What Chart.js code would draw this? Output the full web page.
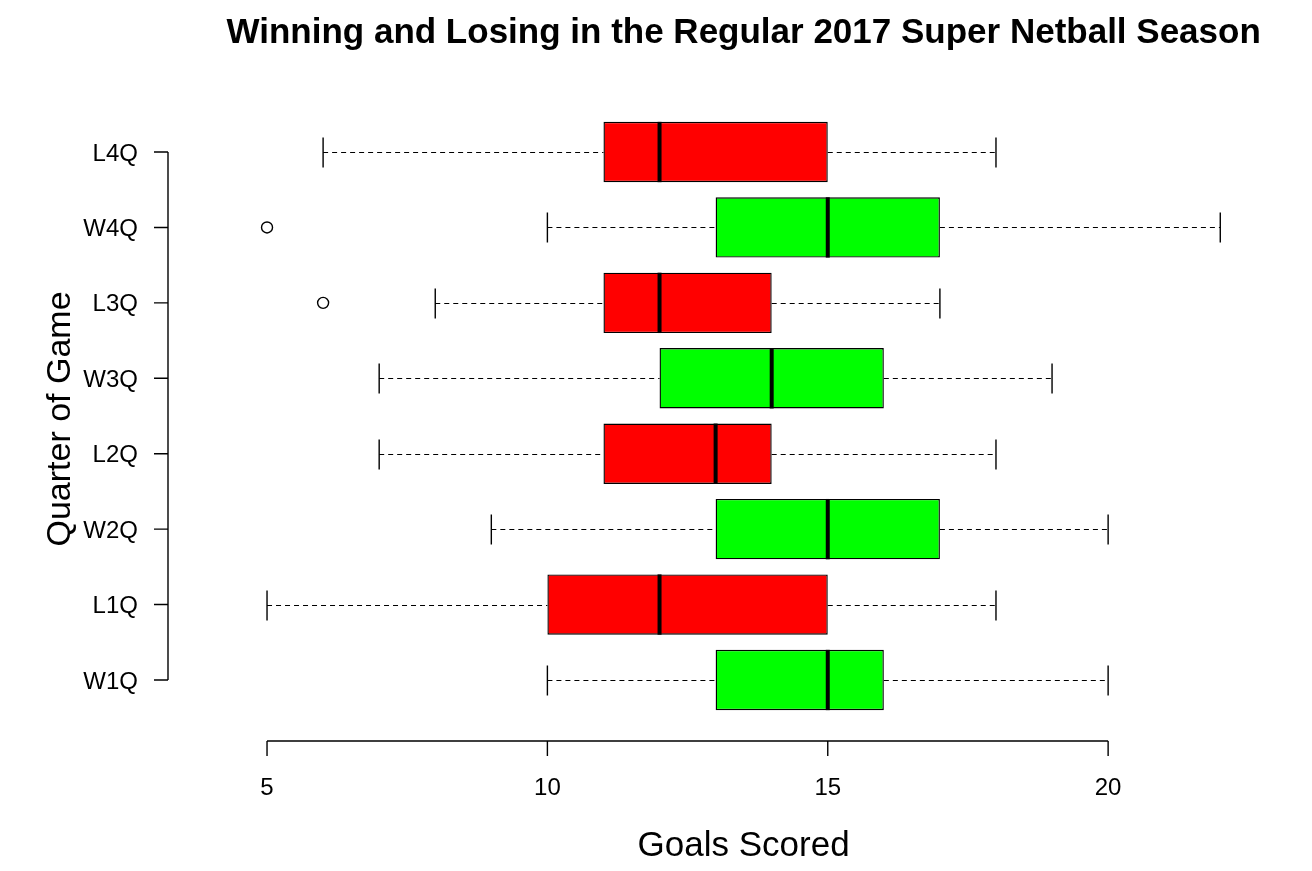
<!DOCTYPE html>
<html>
<head>
<meta charset="utf-8">
<script src="https://cdn.jsdelivr.net/npm/chart.js@4"></script>
<style>
  body { margin: 0; background: #fff; }
  #wrap { width: 1312px; height: 871px; position: relative; }
</style>
</head>
<body>
<div id="wrap"><canvas id="boxChart"></canvas></div>
<script>
// quarters, bottom to top
var categories = ['W1Q', 'L1Q', 'W2Q', 'L2Q', 'W3Q', 'L3Q', 'W4Q', 'L4Q'];
var whiskerLow  = [10, 5, 9, 7, 7, 8, 10, 6];
var lowerQuart  = [13, 10, 13, 11, 12, 11, 13, 11];
var medians     = [15, 12, 15, 13, 14, 12, 15, 12];
var upperQuart  = [16, 15, 17, 14, 16, 14, 17, 15];
var whiskerHigh = [20, 18, 20, 18, 19, 17, 22, 18];
var outliers    = [[], [], [], [], [], [6], [5], []];
var xTicks = [5, 10, 15, 20];

var FONT = "Helvetica, Arial, 'Liberation Sans', sans-serif";

var boxes = categories.map(function (c, i) { return [lowerQuart[i], upperQuart[i]]; });
var fills = categories.map(function (c) { return c.charAt(0) === 'W' ? '#00FF00' : '#FF0000'; });

var boxPlot = {
  id: 'boxPlot',
  beforeDatasetsDraw: function (chart) {
    var ctx = chart.ctx, xs = chart.scales.x;
    var meta = chart.getDatasetMeta(0);
    ctx.save();
    ctx.strokeStyle = '#000';
    meta.data.forEach(function (bar, i) {
      var y = Math.round(bar.y) + 0.5, half = bar.height / 4;
      var lo = xs.getPixelForValue(whiskerLow[i]), hi = xs.getPixelForValue(whiskerHigh[i]);
      var a = xs.getPixelForValue(lowerQuart[i]), b = xs.getPixelForValue(upperQuart[i]);
      ctx.lineWidth = 1.2;
      ctx.setLineDash([5, 4]);
      ctx.beginPath();
      ctx.moveTo(lo, y); ctx.lineTo(a, y);
      ctx.moveTo(b, y); ctx.lineTo(hi, y);
      ctx.stroke();
      ctx.setLineDash([]);
      ctx.lineWidth = 1.4;
      ctx.beginPath();
      ctx.moveTo(lo, y - half); ctx.lineTo(lo, y + half);
      ctx.moveTo(hi, y - half); ctx.lineTo(hi, y + half);
      ctx.stroke();
    });
    ctx.restore();
  },
  afterDatasetsDraw: function (chart) {
    var ctx = chart.ctx, xs = chart.scales.x;
    var meta = chart.getDatasetMeta(0);
    ctx.save();
    ctx.strokeStyle = '#000';
    meta.data.forEach(function (bar, i) {
      var y = bar.y, h = bar.height / 2;
      var m = xs.getPixelForValue(medians[i]);
      ctx.lineWidth = 4;
      ctx.beginPath();
      ctx.moveTo(m, y - h); ctx.lineTo(m, y + h);
      ctx.stroke();
      ctx.lineWidth = 1.4;
      outliers[i].forEach(function (v) {
        ctx.beginPath();
        ctx.arc(xs.getPixelForValue(v), y, 5.5, 0, Math.PI * 2);
        ctx.stroke();
      });
    });
    ctx.restore();
  },
  afterDraw: function (chart) {
    var ctx = chart.ctx, xs = chart.scales.x, ys = chart.scales.y;
    var area = chart.chartArea;
    ctx.save();
    ctx.strokeStyle = '#000';
    ctx.lineWidth = 1.4;
    // x axis, offset below the plot
    var ax = 741, x0 = xs.getPixelForValue(xTicks[0]), x1 = xs.getPixelForValue(xTicks[xTicks.length - 1]);
    ctx.beginPath();
    ctx.moveTo(x0, ax); ctx.lineTo(x1, ax);
    xTicks.forEach(function (v) {
      var p = xs.getPixelForValue(v);
      ctx.moveTo(p, ax); ctx.lineTo(p, ax + 15);
    });
    // y axis, offset left of the plot
    var ay = 168, y0 = ys.getPixelForValue(0), y1 = ys.getPixelForValue(categories.length - 1);
    ctx.moveTo(ay, y0); ctx.lineTo(ay, y1);
    categories.forEach(function (c, i) {
      var p = ys.getPixelForValue(i);
      ctx.moveTo(ay, p); ctx.lineTo(ay - 14, p);
    });
    ctx.stroke();

    ctx.fillStyle = '#000';
    ctx.textAlign = 'center';
    ctx.textBaseline = 'alphabetic';
    ctx.font = 'bold 35px ' + FONT;
    ctx.fillText('Winning and Losing in the Regular 2017 Super Netball Season', (area.left + area.right) / 2, 43);
    ctx.font = '35px ' + FONT;
    ctx.fillText('Goals Scored', (area.left + area.right) / 2, 856);
    ctx.font = '34px ' + FONT;
    ctx.translate(70, (area.top + area.bottom) / 2 + 3);
    ctx.rotate(-Math.PI / 2);
    ctx.fillText('Quarter of Game', 0, 0);
    ctx.restore();
  }
};

new Chart(document.getElementById('boxChart'), {
  type: 'bar',
  data: {
    labels: categories,
    datasets: [{
      data: boxes,
      backgroundColor: fills,
      borderColor: '#000',
      borderWidth: 1.4,
      borderSkipped: false,
      barPercentage: 0.8,
      categoryPercentage: 1.0
    }]
  },
  options: {
    indexAxis: 'y',
    responsive: true,
    maintainAspectRatio: false,
    devicePixelRatio: 1,
    animation: false,
    layout: { padding: { top: 114.3, right: 53.6, bottom: 0, left: 0 } },
    plugins: { legend: { display: false }, tooltip: { enabled: false } },
    scales: {
      x: {
        type: 'linear',
        min: 4.32,
        max: 22.68,
        grid: { display: false, drawTicks: false },
        border: { display: false },
        afterBuildTicks: function (s) { s.ticks = xTicks.map(function (v) { return { value: v }; }); },
        afterFit: function (s) { s.height = 153.3; },
        ticks: { padding: 56, color: '#000', font: { family: FONT, size: 24 } }
      },
      y: {
        reverse: true,
        grid: { display: false, drawTicks: false },
        border: { display: false },
        afterFit: function (s) { s.width = 228.9; },
        ticks: { padding: 91, labelOffset: 2, color: '#000', font: { family: FONT, size: 24 } }
      }
    }
  },
  plugins: [boxPlot]
});
</script>
</body>
</html>
